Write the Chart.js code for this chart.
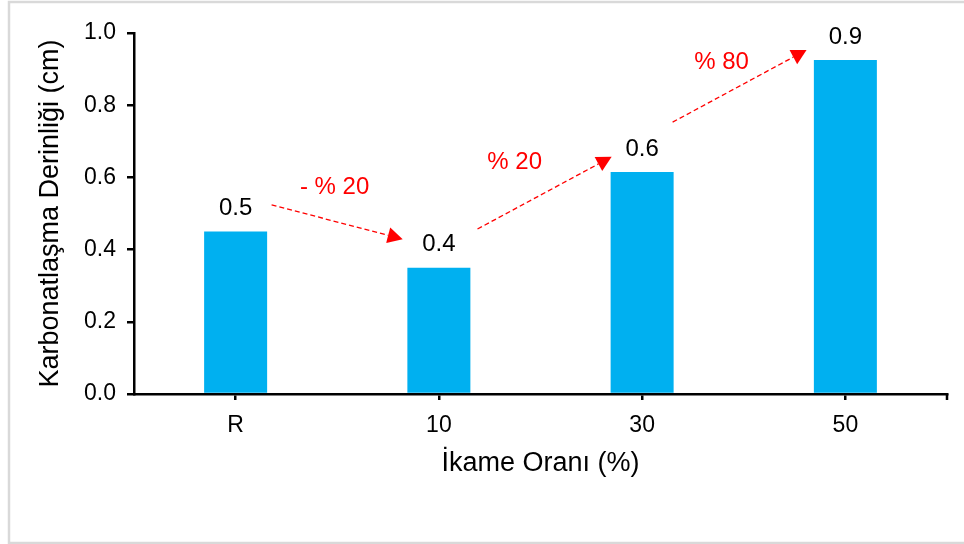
<!DOCTYPE html>
<html>
<head>
<meta charset="utf-8">
<script src="https://cdn.jsdelivr.net/npm/chart.js@4/dist/chart.umd.min.js"></script>
<style>
  html, body { margin: 0; padding: 0; background: #ffffff; }
  #wrap { position: relative; width: 964px; height: 544px; }
</style>
</head>
<body>
<div id="wrap"><canvas id="c"></canvas></div>
<script>
// Carbonation depth per replacement ratio
const categories = ['R', '10', '30', '50'];
const depthValues = [0.45, 0.35, 0.615, 0.925];
const yTicks = [0.0, 0.2, 0.4, 0.6, 0.8, 1.0];

// Percentage-change callouts between bars (positions in axis units)
const changeTexts = ['- % 20', '% 20', '% 80'];
const changeTextAt = [[0.487, 0.571], [1.373, 0.643], [2.391, 0.92]];
const arrowFrom = [[0.177, 0.524], [1.19, 0.457], [2.15, 0.753]];
const arrowTo = [[0.822, 0.429], [1.85, 0.657], [2.809, 0.953]];

const FONT = '"Liberation Sans", Arial, sans-serif';
const RED = '#ff0000';

function fmt(v) {
  return (Math.round(v * 10 + 1e-9) / 10).toFixed(1);
}

const framePlugin = {
  id: 'frame',
  beforeDraw(chart) {
    const ctx = chart.ctx;
    ctx.save();
    ctx.fillStyle = '#ffffff';
    ctx.fillRect(0, 0, chart.width, chart.height);
    ctx.strokeStyle = '#d9d9d9';
    ctx.lineWidth = 2.5;
    ctx.strokeRect(9, 2, 1000, 541);
    ctx.restore();
  }
};

const valueLabels = {
  id: 'valueLabels',
  afterDatasetsDraw(chart) {
    const ctx = chart.ctx;
    const meta = chart.getDatasetMeta(0);
    ctx.save();
    ctx.font = '24px ' + FONT;
    ctx.fillStyle = '#000000';
    ctx.textAlign = 'center';
    ctx.textBaseline = 'middle';
    meta.data.forEach((bar, i) => {
      ctx.fillText(fmt(depthValues[i]), bar.x, bar.y - 23);
    });
    ctx.restore();
  }
};

const axisEndTick = {
  id: 'axisEndTick',
  afterDraw(chart) {
    const ctx = chart.ctx;
    const a = chart.chartArea;
    ctx.save();
    ctx.strokeStyle = '#000000';
    ctx.lineWidth = 2.5;
    ctx.beginPath();
    ctx.moveTo(a.right, a.bottom);
    ctx.lineTo(a.right, a.bottom + 6);
    ctx.stroke();
    ctx.restore();
  }
};

const changeArrows = {
  id: 'changeArrows',
  afterDraw(chart) {
    const ctx = chart.ctx;
    const xs = chart.scales.x, ys = chart.scales.y;
    const px = p => [xs.getPixelForValue(p[0]), ys.getPixelForValue(p[1])];
    ctx.save();
    ctx.strokeStyle = RED;
    ctx.fillStyle = RED;
    for (let i = 0; i < arrowFrom.length; i++) {
      const [x0, y0] = px(arrowFrom[i]);
      const [x1, y1] = px(arrowTo[i]);
      const ang = Math.atan2(y1 - y0, x1 - x0);
      const headLen = 15, headHalf = 8;
      const bx = x1 - headLen * Math.cos(ang), by = y1 - headLen * Math.sin(ang);
      ctx.lineWidth = 1.3;
      ctx.setLineDash([5, 3]);
      ctx.beginPath();
      ctx.moveTo(x0, y0);
      ctx.lineTo(bx, by);
      ctx.stroke();
      ctx.setLineDash([]);
      ctx.beginPath();
      ctx.moveTo(x1, y1);
      ctx.lineTo(bx + headHalf * Math.sin(ang), by - headHalf * Math.cos(ang));
      ctx.lineTo(bx - headHalf * Math.sin(ang), by + headHalf * Math.cos(ang));
      ctx.closePath();
      ctx.fill();
    }
    ctx.font = '24px ' + FONT;
    ctx.textAlign = 'center';
    ctx.textBaseline = 'middle';
    changeTexts.forEach((t, i) => {
      const [x, y] = px(changeTextAt[i]);
      ctx.fillText(t, x, y);
    });
    ctx.restore();
  }
};

new Chart(document.getElementById('c'), {
  type: 'bar',
  data: {
    labels: categories,
    datasets: [{
      data: depthValues,
      backgroundColor: '#00b0f0',
      borderWidth: 0,
      barPercentage: 0.31,
      categoryPercentage: 1.0
    }]
  },
  options: {
    responsive: true,
    maintainAspectRatio: false,
    animation: false,
    devicePixelRatio: 1,
    layout: { padding: { left: 0, top: 33, right: 17, bottom: 0 } },
    plugins: {
      legend: { display: false },
      tooltip: { enabled: false }
    },
    scales: {
      x: {
        offset: true,
        grid: {
          offset: false,
          drawOnChartArea: false,
          drawTicks: true,
          tickLength: 6,
          color: '#000000',
          lineWidth: 2.5
        },
        border: { display: true, color: '#000000', width: 2.5 },
        ticks: {
          color: '#000000',
          font: { family: FONT, size: 23 },
          padding: 12,
          maxRotation: 0
        },
        title: {
          display: true,
          text: 'İkame Oranı (%)',
          color: '#000000',
          font: { family: FONT, size: 27 },
          padding: { top: 0, bottom: 64 }
        },
        afterFit(scale) { scale.height = 150; }
      },
      y: {
        min: 0,
        max: 1.0,
        afterBuildTicks(scale) {
          scale.ticks = yTicks.map(v => ({ value: v }));
        },
        grid: {
          drawOnChartArea: false,
          drawTicks: true,
          tickLength: 7,
          color: '#000000',
          lineWidth: 2.5
        },
        border: { display: true, color: '#000000', width: 2.5 },
        ticks: {
          color: '#000000',
          font: { family: FONT, size: 23 },
          padding: 11,
          callback: v => Number(v).toFixed(1)
        },
        title: {
          display: true,
          text: 'Karbonatlaşma Derinliği (cm)',
          color: '#000000',
          font: { family: FONT, size: 27 },
          padding: { top: 34, bottom: 0 }
        },
        afterFit(scale) { scale.width = 134; }
      }
    }
  },
  plugins: [framePlugin, valueLabels, axisEndTick, changeArrows]
});
</script>
</body>
</html>
